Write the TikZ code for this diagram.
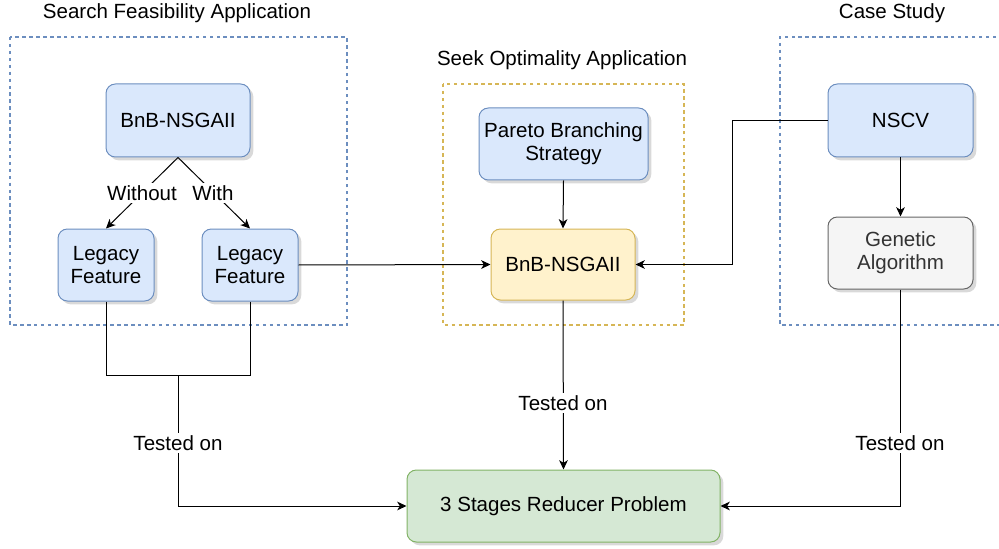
\documentclass[tikz,border=0pt]{standalone}
\usepackage{fontspec}
\setmainfont{Liberation Sans}
\usetikzlibrary{arrows.meta,shadows}
\definecolor{bluefill}{HTML}{DAE8FC}
\definecolor{bluestroke}{HTML}{6C8EBF}
\definecolor{yelfill}{HTML}{FFF2CC}
\definecolor{yelstroke}{HTML}{D6B656}
\definecolor{grnfill}{HTML}{D5E8D4}
\definecolor{grnstroke}{HTML}{82B366}
\definecolor{grayfill}{HTML}{F5F5F5}
\definecolor{graystroke}{HTML}{666666}
\definecolor{graytext}{HTML}{333333}
\tikzset{
  every node/.style={font=\fontsize{15.4}{17}\selectfont},
  boxbase/.style={rounded corners=7pt, line width=0.75pt, align=center, inner sep=0pt,
    drop shadow={shadow xshift=2.5pt, shadow yshift=-2.5pt, opacity=0.3, fill=gray}},
  bluebox/.style={boxbase, draw=bluestroke, fill=bluefill},
  yelbox/.style={boxbase, draw=yelstroke, fill=yelfill},
  grnbox/.style={boxbase, draw=grnstroke, fill=grnfill},
  graybox/.style={boxbase, draw=graystroke, fill=grayfill, text=graytext},
  container/.style={line width=0.85pt, dash pattern=on 2.6pt off 2.6pt},
  conn/.style={line width=0.75pt, draw=black},
  arr/.style={conn, -{Stealth[length=7pt,width=6.5pt,inset=2pt]}},
  lbl/.style={fill=white, inner sep=1.5pt},
  ttl/.style={inner sep=0pt}
}
\begin{document}
\begin{tikzpicture}[x=0.75pt,y=-0.75pt]
\useasboundingbox (0,0) rectangle (999,549);
% containers
\draw[container, draw=bluestroke] (10,37) rectangle (347,325);
\draw[container, draw=yelstroke] (443,84) rectangle (684,325);
\draw[container, draw=bluestroke] (1003,37) -- (780,37) -- (780,325) -- (1003,325);
% titles
\node[ttl] (t1) at (177,13) {Search Feasibility Application};
\node[ttl] (t2) at (562,60) {Seek Optimality Application};
\node[ttl] (t3) at (892,13) {Case Study};
% nodes
\node[bluebox, minimum width=108pt, minimum height=54.75pt] (bnb1) at (178,120.5) {BnB-NSGAII};
\node[bluebox, minimum width=72pt, minimum height=54pt] (leg1) at (106,265) {Legacy\\Feature};
\node[bluebox, minimum width=72pt, minimum height=54pt] (leg2) at (250,265) {Legacy\\Feature};
\node[bluebox, minimum width=126.75pt, minimum height=54pt] (par) at (563.5,144) {Pareto Branching\\Strategy};
\node[yelbox, minimum width=108pt, minimum height=53.25pt] (bnb2) at (563,264.5) {BnB-NSGAII};
\node[bluebox, minimum width=108.75pt, minimum height=54.75pt] (nscv) at (900.5,120.5) {NSCV};
\node[graybox, minimum width=108.75pt, minimum height=54pt] (ga) at (900.5,253) {Genetic\\Algorithm};
\node[grnbox, minimum width=234.75pt, minimum height=54pt] (prob) at (563.5,506) {3 Stages Reducer Problem};
% coordinates
\coordinate (j1) at (178,375);
\coordinate (k1) at (732,120.5);
% connectors
\draw[arr] (bnb1.south) -- (leg1.north);
\draw[arr] (bnb1.south) -- (leg2.north);
\draw[arr] (par.south) -- (bnb2.north);
\draw[arr] (leg2.east) -- (bnb2.west);
\draw[arr] (nscv.west) -- (k1) |- (bnb2.east);
\draw[arr] (nscv.south) -- (ga.north);
\draw[conn] (leg1.south) |- (j1);
\draw[conn] (leg2.south) |- (j1);
\draw[arr] (j1) |- (prob.west);
\draw[arr] (bnb2.south) -- (prob.north);
\draw[arr] (ga.south) |- (prob.east);
% labels
\node[lbl] (lw1) at (142,193) {Without};
\node[lbl] (lw2) at (213,193) {With};
\node[lbl] (lt1) at (178,443) {Tested on};
\node[lbl] (lt2) at (563,403) {Tested on};
\node[lbl] (lt3) at (900,443) {Tested on};
\end{tikzpicture}
\end{document}
